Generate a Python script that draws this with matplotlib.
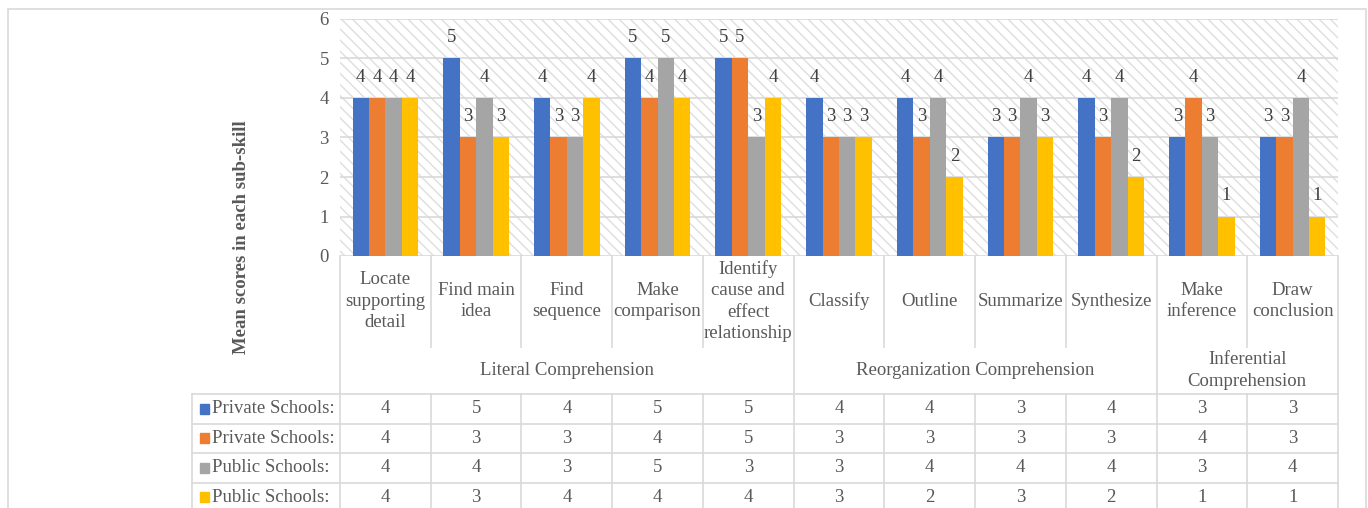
import matplotlib.pyplot as plt
from matplotlib.patches import Rectangle
import numpy as np

plt.rcParams['font.family'] = ['Liberation Serif', 'DejaVu Serif']
plt.rcParams['hatch.linewidth'] = 1.0

# sub-skills and their comprehension groups
skills = ["Locate\nsupporting\ndetail", "Find main\nidea", "Find\nsequence", "Make\ncomparison",
          "Identify\ncause and\neffect\nrelationship", "Classify", "Outline", "Summarize",
          "Synthesize", "Make\ninference", "Draw\nconclusion"]
groups = ["Literal Comprehension", "Reorganization Comprehension", "Inferential\nComprehension"]
group_sizes = [5, 4, 2]

series_names = ["Private Schools:", "Private Schools:", "Public Schools:", "Public Schools:"]
private_1 = [4, 5, 4, 5, 5, 4, 4, 3, 4, 3, 3]
private_2 = [4, 3, 3, 4, 5, 3, 3, 3, 3, 4, 3]
public_1 = [4, 4, 3, 5, 3, 3, 4, 4, 4, 3, 4]
public_2 = [4, 3, 4, 4, 4, 3, 2, 3, 2, 1, 1]
series = [private_1, private_2, public_1, public_2]
colors = ["#4472C4", "#ED7D31", "#A5A5A5", "#FFC000"]

text_col = "#595959"
line_col = "#D9D9D9"
fs = 13.5
W, H = 1368, 508

fig = plt.figure(figsize=(W / 100, H / 100), dpi=100)

# chart border
fig.patches.append(Rectangle((8 / W, -0.1), (1366 - 8) / W, 1.1 - 9 / H, transform=fig.transFigure,
                             fill=False, edgecolor=line_col, linewidth=1.2))

ax = fig.add_axes([340 / W, 1 - 256 / H, 998 / W, 237 / H])
n = len(skills)
x = np.arange(n)
bw = 0.181

ax.add_patch(Rectangle((0, 0), 1, 1, transform=ax.transAxes, facecolor="white",
                       edgecolor="#DEDEDE", hatch="\\\\\\", linewidth=0, zorder=0.2))
for j, vals in enumerate(series):
    pos = x + (j - 1.5) * bw
    ax.bar(pos, vals, width=bw, color=colors[j], zorder=2)
    for p, v in zip(pos, vals):
        ax.annotate(str(v), (p, v), xytext=(0, 15), textcoords="offset points",
                    ha="center", va="center", fontsize=fs, color="#404040")

ax.set_xlim(-0.5, n - 0.5)
ax.set_ylim(0, 6)
ax.set_yticks(range(7))
ax.set_xticks([])
ax.set_axisbelow(True)
ax.grid(axis="y", color=line_col, linewidth=1.2)
for s in ax.spines.values():
    s.set_visible(False)
ax.tick_params(axis="y", length=0, labelsize=fs, labelcolor=text_col, pad=8)

fig.text(241 / W, 1 - 237 / H, "Mean scores in each sub-skill", rotation=90, ha="center",
         va="center", fontsize=fs, fontweight="bold", color=text_col)

# category axis + data table below the plot, y in pixel rows
cw = 998 / n
tab = fig.add_axes([192 / W, 0, (1338 - 192) / W, (H - 256) / H])
tab.set_xlim(-0.5 - 148 / cw, n - 0.5)
tab.set_ylim(H, 256)
tab.axis("off")

def vline(xv, y0, y1):
    tab.plot([xv, xv], [y0, y1], color=line_col, linewidth=1.2, clip_on=False)

cat_bottom, grp_bottom = 347, 394
row_lines = [394, 423.5, 453, 482.5, 512]
bounds = np.cumsum([0] + group_sizes) - 0.5
for b in np.arange(-0.5, n):
    if b in bounds:
        vline(b, 256, 512)
    else:
        vline(b, 256, cat_bottom)
        vline(b, grp_bottom, 512)
left = -0.5 - 148 / cw
vline(left, grp_bottom, 512)
for yl in row_lines:
    tab.plot([left, n - 0.5], [yl, yl], color=line_col, linewidth=1.2, clip_on=False)

for i, s in enumerate(skills):
    tab.text(i, 301, s, ha="center", va="center", fontsize=fs, color=text_col,
             linespacing=1.35)
for g, b0, b1 in zip(groups, bounds[:-1], bounds[1:]):
    tab.text((b0 + b1) / 2, 370.5, g, ha="center", va="center", fontsize=fs,
             color=text_col, linespacing=1.35)

for j, (name, vals) in enumerate(zip(series_names, series)):
    yc = (row_lines[j] + row_lines[j + 1]) / 2
    tab.add_patch(Rectangle((-0.5 - 140 / cw, yc - 5), 9 / cw, 10, color=colors[j]))
    tab.text(-0.5 - 128 / cw, yc, name, ha="left", va="center", fontsize=fs, color=text_col)
    for i, v in enumerate(vals):
        tab.text(i, yc, str(v), ha="center", va="center", fontsize=fs, color=text_col)

fig.savefig("out.png", dpi=100)
